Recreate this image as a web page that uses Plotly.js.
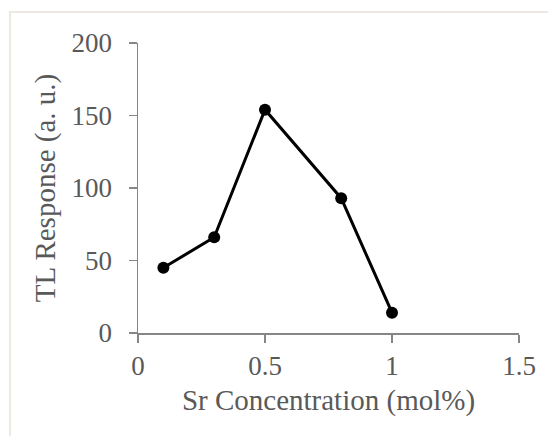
<!DOCTYPE html>
<html>
<head>
<meta charset="utf-8">
<script src="https://cdn.plot.ly/plotly-3.0.1.min.js"></script>
<style>
html,body{margin:0;padding:0;background:#fff;}
#wrap{position:relative;width:548px;height:436px;overflow:hidden;}
#frame{position:absolute;left:9px;top:11px;width:600px;height:500px;border-left:2px solid #ece9e1;border-top:2px solid #ece9e1;pointer-events:none;}
#chart{position:absolute;left:0;top:0;width:548px;height:436px;}
</style>
</head>
<body>
<div id="wrap">
<div id="chart"></div>
<div id="frame"></div>
</div>
<script>
const concentration = [0.1, 0.3, 0.5, 0.8, 1.0];
const tlResponse = [45, 66, 154, 93, 14];
const xTicks = [0, 0.5, 1, 1.5];
const xTickText = ['0', '0.5', '1', '1.5'];
const yTicks = [0, 50, 100, 150, 200];
const yTickText = ['0', '50', '100', '150', '200'];

const trace = {
  x: concentration,
  y: tlResponse,
  type: 'scatter',
  mode: 'lines+markers',
  line: {color: '#000000', width: 3},
  marker: {color: '#000000', size: 12},
  hoverinfo: 'none'
};

const tickFont = {family: '"Liberation Serif", "Times New Roman", serif', size: 27, color: '#595959'};
const titleFont = {family: '"Liberation Serif", "Times New Roman", serif', size: 29, color: '#595959'};

const layout = {
  width: 548,
  height: 436,
  margin: {l: 138, r: 29, t: 43, b: 103},
  paper_bgcolor: '#ffffff',
  plot_bgcolor: '#ffffff',
  showlegend: false,
  xaxis: {
    range: [0, 1.5],
    tickmode: 'array',
    tickvals: xTicks,
    ticktext: xTickText,
    showgrid: false,
    zeroline: false,
    showline: true,
    linecolor: '#868686',
    linewidth: 1.5,
    ticks: 'outside',
    ticklen: 8,
    tickwidth: 1.5,
    tickcolor: '#868686',
    tickfont: tickFont,
    title: {text: 'Sr Concentration (mol%)', font: titleFont, standoff: 10}
  },
  yaxis: {
    range: [0, 200],
    tickmode: 'array',
    tickvals: yTicks,
    ticktext: yTickText,
    showgrid: false,
    zeroline: false,
    showline: true,
    linecolor: '#868686',
    linewidth: 1.5,
    ticks: 'outside',
    ticklen: 8,
    tickwidth: 1.5,
    tickcolor: '#868686',
    tickfont: tickFont,
    ticklabelstandoff: 11,
    title: {text: 'TL Response (a. u.)', font: titleFont, standoff: 7}
  }
};

Plotly.newPlot('chart', [trace], layout, {displayModeBar: false, staticPlot: true});
</script>
</body>
</html>
